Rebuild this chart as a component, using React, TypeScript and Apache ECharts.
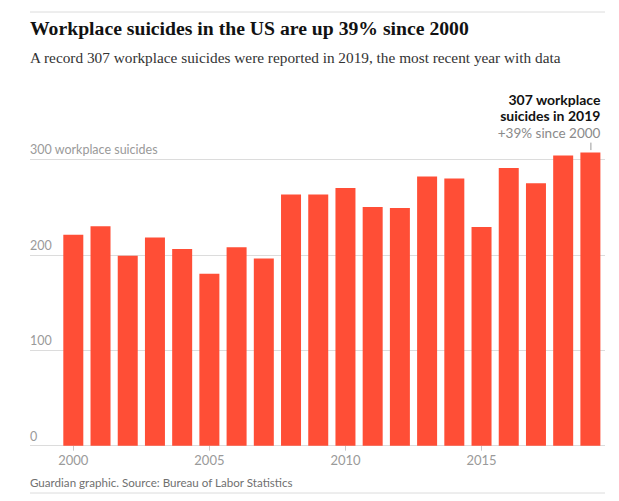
import React, { useEffect, useRef } from 'react';
import * as echarts from 'echarts';

// ---- data ----
const years = ['2000', '2001', '2002', '2003', '2004', '2005', '2006', '2007', '2008', '2009',
  '2010', '2011', '2012', '2013', '2014', '2015', '2016', '2017', '2018', '2019'];
const suicides = [221, 230, 199, 218, 206, 180, 208, 196, 263, 263,
  270, 250, 249, 282, 280, 229, 291, 275, 304, 307];
const yTicks = [0, 100, 200, 300];
const labeledYears = ['2000', '2005', '2010', '2015'];
const yUnit = 'workplace suicides';

const TITLE = 'Workplace suicides in the US are up 39% since 2000';
const SUBTITLE = 'A record 307 workplace suicides were reported in 2019, the most recent year with data';
const SOURCE = 'Guardian graphic. Source: Bureau of Labor Statistics';
const ANNO_LINES = ['307 workplace', 'suicides in 2019'];
const ANNO_SUB = '+39% since 2000';

const SANS = 'Lato, "Open Sans", sans-serif';
const SERIF = '"Liberation Serif", "DejaVu Serif", serif';
const BAR = '#ff4e36';
const GRID = '#dcdcdc';

export default function App() {
  const ref = useRef<HTMLDivElement>(null);

  useEffect(() => {
    document.body.style.margin = '0';
    const chart = echarts.init(ref.current!, null, { renderer: 'svg' });
    const top = 159.3;
    const bottom = 501 - 445.7;
    const yMax = yTicks[yTicks.length - 1];
    const interval = yTicks[1] - yTicks[0];

    const base: any = {
      animation: false,
      backgroundColor: '#ffffff',
      grid: [
        { left: 59.7, right: 15, top, bottom },
        { left: 30, right: 14, top, bottom },
      ],
      xAxis: [
        {
          type: 'category', gridIndex: 0, data: years,
          axisLine: { show: false },
          axisTick: {
            show: true, alignWithLabel: true, length: 5,
            interval: (_i: number, v: string) => labeledYears.includes(v),
            lineStyle: { color: '#c8c8c8' },
          },
          axisLabel: {
            interval: (_i: number, v: string) => labeledYears.includes(v),
            color: '#9a9a9a', fontFamily: SANS, fontSize: 13, margin: 8,
          },
        },
        { type: 'value', gridIndex: 1, min: 0, max: 1, show: false },
      ],
      yAxis: [
        { type: 'value', gridIndex: 0, min: 0, max: yMax, interval, show: false },
        {
          type: 'value', gridIndex: 1, min: 0, max: yMax, interval,
          axisLine: { show: false }, axisTick: { show: false },
          splitLine: { show: true, lineStyle: { color: GRID, width: 1 } },
          axisLabel: {
            inside: true, margin: 0, verticalAlign: 'bottom',
            color: '#9a9a9a', fontFamily: SANS, fontSize: 12.5, padding: [0, 0, 3, 0],
            formatter: (v: number) => (v === yMax ? `${v} ${yUnit}` : String(v)),
          },
        },
      ],
      series: [
        {
          type: 'bar', xAxisIndex: 0, yAxisIndex: 0, data: suicides,
          barWidth: 20, clip: false, itemStyle: { color: BAR }, z: 3,
        },
      ],
    };
    chart.setOption(base);

    const last = suicides.length - 1;
    const p = chart.convertToPixel({ xAxisIndex: 0, yAxisIndex: 0 } as any, [last, suicides[last]]) as number[];
    const right = p[0] + 10;

    chart.setOption({
      graphic: [
        { type: 'line', shape: { x1: 30, y1: 12, x2: 605, y2: 12 }, style: { stroke: GRID, lineWidth: 1 } },
        { type: 'line', shape: { x1: 30, y1: 493, x2: 605, y2: 493 }, style: { stroke: GRID, lineWidth: 1 } },
        {
          type: 'text', x: 30, y: 28,
          style: { text: TITLE, fontFamily: SERIF, fontWeight: 'bold', fontSize: 19.7, fill: '#121212', textVerticalAlign: 'middle' },
        },
        {
          type: 'text', x: 30, y: 57,
          style: { text: SUBTITLE, fontFamily: SERIF, fontSize: 15.3, fill: '#333333', textVerticalAlign: 'middle' },
        },
        {
          type: 'text', x: 30, y: 482,
          style: { text: SOURCE, fontFamily: SANS, fontSize: 11.6, fill: '#707070', textVerticalAlign: 'middle' },
        },
        {
          type: 'line', shape: { x1: p[0] + 0.5, y1: p[1] - 10, x2: p[0] + 0.5, y2: p[1] - 2.5 },
          style: { stroke: '#9a9a9a', lineWidth: 1 },
        },
        {
          type: 'text', x: right, y: p[1] - 53.4,
          style: { text: ANNO_LINES[0], fontFamily: SANS, fontWeight: 'bold', fontSize: 14, fill: '#121212', textAlign: 'right', textVerticalAlign: 'middle' },
        },
        {
          type: 'text', x: right, y: p[1] - 36.7,
          style: { text: ANNO_LINES[1], fontFamily: SANS, fontWeight: 'bold', fontSize: 14, fill: '#121212', textAlign: 'right', textVerticalAlign: 'middle' },
        },
        {
          type: 'text', x: right, y: p[1] - 19.4,
          style: { text: ANNO_SUB, fontFamily: SANS, fontSize: 13.5, fill: '#8a8a8a', textAlign: 'right', textVerticalAlign: 'middle' },
        },
      ],
    });

    return () => chart.dispose();
  }, []);

  return <div ref={ref} style={{ position: 'absolute', left: 0, top: 0, width: 619, height: 501 }} />;
}
